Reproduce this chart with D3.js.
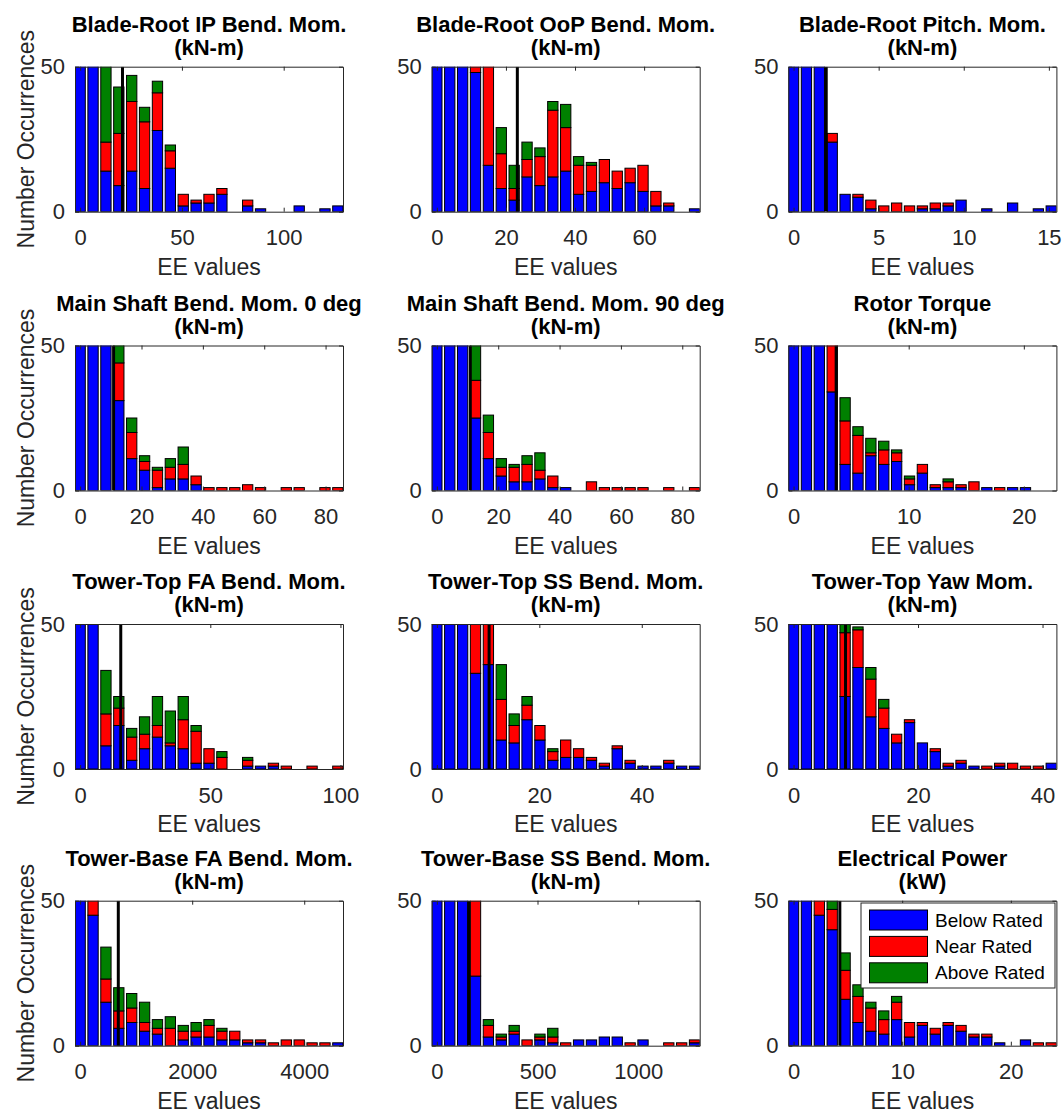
<!DOCTYPE html>
<html>
<head>
<meta charset="utf-8">
<script src="https://cdn.jsdelivr.net/npm/d3@7"></script>
<style>
  body { margin: 0; background: #fff; }
  text { font-family: "Liberation Sans", Arial, Helvetica, sans-serif; }
</style>
</head>
<body>
<div id="chart"></div>
<script>
// panel titles (two lines each)
var titles = ["Blade-Root IP Bend. Mom.", "Blade-Root OoP Bend. Mom.", "Blade-Root Pitch. Mom.",
              "Main Shaft Bend. Mom. 0 deg", "Main Shaft Bend. Mom. 90 deg", "Rotor Torque",
              "Tower-Top FA Bend. Mom.", "Tower-Top SS Bend. Mom.", "Tower-Top Yaw Mom.",
              "Tower-Base FA Bend. Mom.", "Tower-Base SS Bend. Mom.", "Electrical Power"];
var units = ["(kN-m)", "(kN-m)", "(kN-m)", "(kN-m)", "(kN-m)", "(kN-m)",
             "(kN-m)", "(kN-m)", "(kN-m)", "(kN-m)", "(kN-m)", "(kW)"];

// histogram bins: centre of first bin and bin width (EE units)
var binStart = [0, 0, 0, 0, 0, 0, 0, 0, 0, 0, 0, 0];
var binWidth = [6.33, 3.73, 0.757, 4.2, 4.2, 1.119, 4.95, 2.515, 2.07, 230, 64, 1.186];
// rated EE value (black line)
var ratedLine = [20.8, 23.3, 1.92, 10.9, 10.9, 3.7, 15.6, 10.2, 8.35, 681, 158, 4.26];

var xTicks = [[0, 50, 100], [0, 20, 40, 60], [0, 5, 10, 15],
              [0, 20, 40, 60, 80], [0, 20, 40, 60, 80], [0, 10, 20],
              [0, 50, 100], [0, 20, 40], [0, 20, 40],
              [0, 2000, 4000], [0, 500, 1000], [0, 10, 20]];
var yTicks = [0, 50];

// counts per bin (first bins run off the top of the 0-50 window)
var belowRated = [
  [70, 65, 14, 9, 14, 8, 28, 15, 2, 3, 3, 6, 0, 2, 1, 0, 0, 2, 0, 1, 2],
  [70, 65, 60, 48, 16, 8, 4, 12, 9, 12, 14, 6, 7, 10, 8, 10, 7, 2, 2, 0, 1],
  [70, 65, 60, 24, 6, 5, 1, 0, 0, 0, 1, 1, 2, 4, 0, 1, 0, 3, 0, 1, 2],
  [70, 65, 60, 31, 11, 7, 1, 4, 4, 2, 0, 0, 0, 0, 0, 0, 0, 0, 0, 0, 0],
  [70, 65, 60, 25, 11, 5, 3, 3, 4, 1, 1, 0, 0, 0, 0, 0, 0, 0, 0, 0, 0],
  [70, 65, 60, 34, 9, 6, 12, 9, 10, 2, 6, 1, 1, 1, 0, 1, 0, 1, 1, 0, 0],
  [70, 65, 8, 15, 3, 7, 11, 8, 7, 2, 2, 0, 0, 1, 1, 1, 0, 0, 0, 0, 0],
  [70, 65, 60, 33, 36, 10, 9, 17, 10, 3, 4, 4, 3, 1, 7, 2, 1, 1, 2, 1, 1],
  [70, 65, 60, 55, 25, 35, 18, 14, 9, 16, 9, 6, 1, 2, 1, 0, 1, 0, 0, 0, 2],
  [70, 45, 15, 6, 8, 5, 4, 0, 2, 3, 3, 2, 2, 1, 1, 0, 0, 0, 0, 0, 1],
  [70, 65, 60, 24, 3, 2, 4, 0, 2, 1, 0, 2, 2, 3, 3, 0, 2, 0, 0, 0, 1],
  [70, 65, 45, 40, 16, 8, 5, 4, 9, 3, 7, 4, 7, 5, 3, 3, 1, 0, 2, 0, 0]
];
var nearRated = [
  [0, 0, 10, 18, 24, 23, 13, 6, 4, 1, 3, 2, 0, 2, 0, 0, 0, 0, 0, 0, 0],
  [0, 0, 0, 6, 38, 12, 4, 6, 10, 23, 15, 10, 9, 8, 6, 5, 9, 5, 1, 0, 0],
  [0, 0, 0, 3, 0, 1, 3, 2, 3, 2, 1, 2, 1, 0, 0, 0, 0, 0, 0, 0, 0],
  [0, 0, 0, 13, 9, 3, 6, 4, 5, 3, 1, 1, 1, 2, 1, 0, 1, 1, 0, 1, 1],
  [0, 0, 0, 13, 9, 3, 5, 6, 3, 4, 0, 0, 3, 1, 1, 1, 1, 0, 1, 0, 1],
  [0, 0, 0, 20, 15, 13, 1, 5, 3, 2, 3, 1, 2, 1, 3, 0, 1, 0, 0, 0, 0],
  [0, 0, 11, 6, 8, 5, 4, 1, 10, 11, 5, 4, 0, 2, 0, 1, 1, 0, 1, 0, 1],
  [0, 0, 0, 20, 16, 14, 6, 5, 5, 3, 6, 3, 1, 1, 1, 1, 0, 0, 1, 0, 0],
  [0, 0, 0, 0, 22, 13, 13, 7, 3, 1, 0, 1, 1, 1, 0, 1, 1, 2, 1, 1, 0],
  [0, 8, 8, 6, 5, 3, 2, 6, 3, 2, 4, 3, 3, 1, 1, 1, 2, 2, 1, 1, 0],
  [0, 0, 0, 30, 4, 1, 1, 2, 1, 2, 1, 0, 0, 0, 0, 1, 0, 0, 1, 1, 1],
  [0, 0, 8, 7, 10, 9, 8, 5, 6, 5, 1, 2, 1, 2, 1, 1, 0, 0, 0, 1, 1]
];
var aboveRated = [
  [0, 0, 30, 16, 9, 5, 4, 2, 0, 0, 0, 0, 0, 0, 0, 0, 0, 0, 0, 0, 0],
  [0, 0, 0, 0, 0, 9, 8, 6, 3, 3, 8, 3, 1, 0, 0, 0, 0, 0, 0, 0, 0],
  [0, 0, 0, 0, 0, 0, 0, 0, 0, 0, 0, 0, 0, 0, 0, 0, 0, 0, 0, 0, 0],
  [0, 0, 0, 7, 5, 2, 1, 3, 6, 0, 0, 0, 0, 0, 0, 0, 0, 0, 0, 0, 0],
  [0, 0, 0, 13, 6, 3, 1, 3, 6, 0, 0, 0, 0, 0, 0, 0, 0, 0, 0, 0, 0],
  [0, 0, 0, 0, 8, 3, 5, 3, 1, 1, 0, 0, 1, 0, 0, 0, 0, 0, 0, 0, 0],
  [0, 0, 15, 4, 3, 6, 10, 11, 8, 2, 0, 2, 0, 1, 0, 0, 0, 0, 0, 0, 0],
  [0, 0, 0, 0, 0, 12, 4, 3, 0, 1, 0, 0, 0, 0, 0, 0, 0, 0, 0, 0, 0],
  [0, 0, 0, 0, 4, 1, 4, 3, 0, 0, 0, 0, 0, 0, 0, 0, 0, 0, 0, 0, 0],
  [0, 0, 11, 8, 5, 7, 3, 4, 2, 3, 2, 1, 0, 0, 0, 0, 0, 0, 0, 0, 0],
  [0, 0, 0, 0, 2, 1, 2, 0, 1, 3, 0, 0, 0, 0, 0, 0, 0, 0, 0, 0, 0],
  [0, 0, 0, 5, 6, 4, 2, 3, 2, 0, 0, 0, 0, 0, 0, 0, 0, 0, 0, 0, 0]
];

var seriesNames = ["Below Rated", "Near Rated", "Above Rated"];
var colors = ["#0000ff", "#ff0000", "#008000"];

var svg = d3.select("#chart").append("svg")
    .attr("width", 1064)
    .attr("height", 1114),
    panelW = 268,
    panelH = 145,
    lefts = [75, 431.7, 788.4],
    tops = [66.7, 345.5, 624, 900.7],
    axisColor = "#262626";

var y = d3.scaleLinear().domain([0, 50]).range([panelH, 0]);
var stack = d3.stack().keys(["below", "near", "above"]);

titles.forEach(function(title, i) {
    var col = i % 3, row = Math.floor(i / 3),
        w = binWidth[i], c0 = binStart[i], n = belowRated[i].length;

    var g = svg.append("g")
        .attr("transform", "translate(" + lefts[col] + "," + tops[row] + ")");

    var x = d3.scaleLinear()
        .domain([c0 - 0.4 * w, c0 + (n - 1 + 0.4) * w])
        .range([0, panelW]);

    var rows = belowRated[i].map(function(b, k) {
        return {bin: c0 + k * w, below: b, near: nearRated[i][k], above: aboveRated[i][k]};
    });

    g.append("clipPath").attr("id", "clip" + i)
      .append("rect").attr("width", panelW).attr("height", panelH);

    var plot = g.append("g").attr("clip-path", "url(#clip" + i + ")");

    var layer = plot.selectAll(".layer")
        .data(stack(rows))
        .enter().append("g")
            .attr("class", "layer")
            .attr("fill", function(d, j) { return colors[j]; });

    layer.selectAll("rect")
        .data(function(d) { return d.filter(function(s) { return s[1] > s[0]; }); })
        .enter().append("rect")
            .attr("x", function(d) { return x(d.data.bin - 0.4 * w); })
            .attr("width", function(d) { return x(d.data.bin + 0.4 * w) - x(d.data.bin - 0.4 * w); })
            .attr("y", function(d) { return y(d[1]); })
            .attr("height", function(d) { return y(d[0]) - y(d[1]); })
            .attr("stroke", "#000")
            .attr("stroke-width", 1);

    plot.append("line")
        .attr("x1", x(ratedLine[i])).attr("x2", x(ratedLine[i]))
        .attr("y1", y(0)).attr("y2", y(50))
        .attr("stroke", "#000")
        .attr("stroke-width", 3);

    // axes box with inward ticks
    var axes = [
        g.append("g").attr("transform", "translate(0," + panelH + ")")
            .call(d3.axisBottom(x).tickValues(xTicks[i]).tickFormat(d3.format("d"))
                .tickSize(-4).tickSizeOuter(0).tickPadding(18)),
        g.append("g")
            .call(d3.axisTop(x).tickValues(xTicks[i]).tickSize(-4).tickSizeOuter(0).tickFormat("")),
        g.append("g")
            .call(d3.axisLeft(y).tickValues(yTicks).tickSize(-4).tickSizeOuter(0).tickPadding(10)),
        g.append("g").attr("transform", "translate(" + panelW + ",0)")
            .call(d3.axisRight(y).tickValues(yTicks).tickSize(-4).tickSizeOuter(0).tickFormat(""))
    ];
    axes.forEach(function(a) {
        a.style("color", axisColor)
            .attr("font-size", 22)
            .attr("font-family", "'Liberation Sans', Arial, sans-serif");
    });

    g.append("text")
        .attr("x", panelW / 2).attr("y", -35)
        .attr("text-anchor", "middle")
        .attr("font-size", 22).attr("font-weight", "bold")
        .attr("fill", "#000")
        .text(title);
    g.append("text")
        .attr("x", panelW / 2).attr("y", -12)
        .attr("text-anchor", "middle")
        .attr("font-size", 22).attr("font-weight", "bold")
        .attr("fill", "#000")
        .text(units[i]);

    g.append("text")
        .attr("x", panelW / 2).attr("y", panelH + 63)
        .attr("text-anchor", "middle")
        .attr("font-size", 23)
        .attr("fill", axisColor)
        .text("EE values");

    if (col == 0) {
        g.append("text")
            .attr("transform", "translate(" + (34 - lefts[0]) + "," + panelH / 2 + ")rotate(-90)")
            .attr("text-anchor", "middle")
            .attr("font-size", 23)
            .attr("fill", axisColor)
            .text("Number Occurrences");
    }

    if (i == titles.length - 1) {
        var lg = g.append("g").attr("transform", "translate(72.6,2.3)");
        lg.append("rect")
            .attr("width", 194).attr("height", 85)
            .attr("fill", "#fff")
            .attr("stroke", axisColor);
        var item = lg.selectAll(".item")
            .data(seriesNames)
            .enter().append("g")
                .attr("class", "item")
                .attr("transform", function(d, j) { return "translate(0," + (17 + j * 26.4) + ")"; });
        item.append("rect")
            .attr("x", 8.5).attr("y", -10)
            .attr("width", 58).attr("height", 20)
            .attr("fill", function(d, j) { return colors[j]; })
            .attr("stroke", "#000");
        item.append("text")
            .attr("x", 74).attr("dy", "0.35em")
            .attr("font-size", 19)
            .attr("fill", "#000")
            .text(function(d) { return d; });
    }
});
</script>
</body>
</html>
